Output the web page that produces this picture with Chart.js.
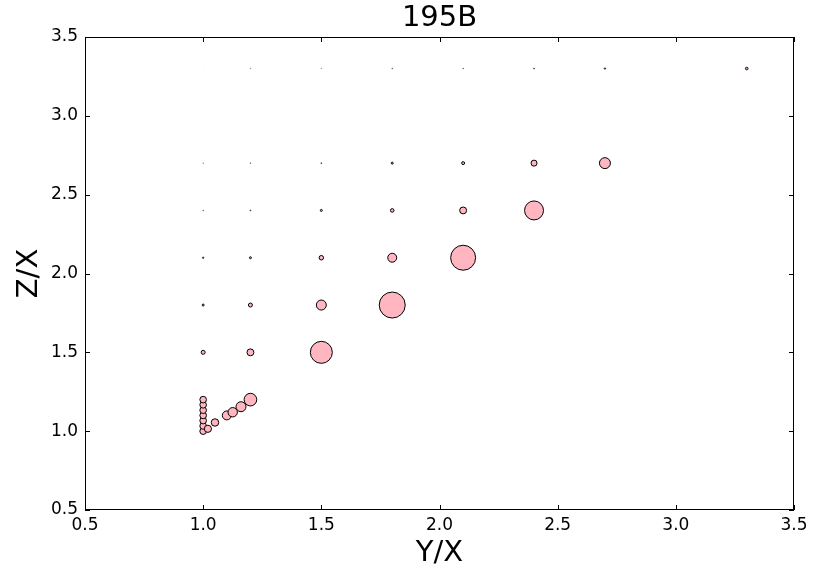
<!DOCTYPE html>
<html>
<head>
<meta charset="utf-8">
<title>195B</title>
<script src="https://cdn.jsdelivr.net/npm/chart.js@4.4.0/dist/chart.umd.min.js"></script>
<style>
  html, body { margin: 0; padding: 0; background: #fff; }
  #wrap { width: 813px; height: 571px; position: relative; }
</style>
</head>
<body>
<div id="wrap"><canvas id="chart"></canvas></div>
<script>
// grid of ratios plus the small cluster near (1, 1)
const ratioYX = [
  1.0, 1.2, 1.5,
  1.0, 1.2, 1.5, 1.8,
  1.0, 1.2, 1.5, 1.8, 2.1,
  1.0, 1.2, 1.5, 1.8, 2.1, 2.4,
  1.0, 1.2, 1.5, 1.8, 2.1, 2.4, 2.7,
  1.0, 1.2, 1.5, 1.8, 2.1, 2.4, 2.7, 3.3,
  1.0, 1.0, 1.0, 1.0, 1.0, 1.0, 1.0,
  1.02, 1.05, 1.1, 1.125, 1.16, 1.2,
];
const ratioZX = [
  1.5, 1.5, 1.5,
  1.8, 1.8, 1.8, 1.8,
  2.1, 2.1, 2.1, 2.1, 2.1,
  2.4, 2.4, 2.4, 2.4, 2.4, 2.4,
  2.7, 2.7, 2.7, 2.7, 2.7, 2.7, 2.7,
  3.3, 3.3, 3.3, 3.3, 3.3, 3.3, 3.3, 3.3,
  1.0, 1.033, 1.067, 1.1, 1.133, 1.167, 1.2,
  1.015, 1.055, 1.1, 1.12, 1.155, 1.2,
];
const weights = [
  4, 12, 121,
  1, 4, 25, 169,
  0.5, 1, 5, 20, 156,
  0.16, 0.25, 1, 3.2, 12, 90,
  0.09, 0.16, 0.25, 1, 2.2, 9, 30,
  0.01, 0.09, 0.09, 0.16, 0.16, 0.25, 0.5, 1.7,
  11, 11, 11, 11, 11, 11, 11,
  13, 14, 20, 22, 25, 40,
];

const xTicks = [0.5, 1.0, 1.5, 2.0, 2.5, 3.0, 3.5];
const yTicks = [0.5, 1.0, 1.5, 2.0, 2.5, 3.0, 3.5];

const points = ratioYX.map((x, i) => ({ x: x, y: ratioZX[i], r: Math.sqrt(weights[i]) }));

// frame with inward tick marks on all four sides
const axisFrame = {
  id: 'axisFrame',
  beforeDatasetsDraw(chart) {
    const { ctx, chartArea: a, scales } = chart;
    const len = 5;
    ctx.save();
    ctx.strokeStyle = '#000';
    ctx.lineWidth = 1;
    ctx.beginPath();
    scales.x.ticks.forEach((t) => {
      const px = Math.round(scales.x.getPixelForValue(t.value)) + 0.5;
      ctx.moveTo(px, a.bottom);
      ctx.lineTo(px, a.bottom - len);
      ctx.moveTo(px, a.top);
      ctx.lineTo(px, a.top + len);
    });
    scales.y.ticks.forEach((t) => {
      const py = Math.round(scales.y.getPixelForValue(t.value)) + 0.5;
      ctx.moveTo(a.left, py);
      ctx.lineTo(a.left + len, py);
      ctx.moveTo(a.right, py);
      ctx.lineTo(a.right - len, py);
    });
    ctx.stroke();
    ctx.strokeRect(Math.round(a.left) + 0.5, Math.round(a.top) + 0.5,
      Math.round(a.width) - 1, Math.round(a.height) - 1);
    ctx.restore();
  },
};

const font = 'DejaVu Sans';

new Chart(document.getElementById('chart'), {
  type: 'bubble',
  data: {
    datasets: [{
      data: points,
      backgroundColor: '#ffb6c1',
      borderColor: '#000',
      borderWidth: (ctx) => Math.min(1, (ctx.raw ? ctx.raw.r : 1) * 1.2),
      clip: false,
    }],
  },
  plugins: [axisFrame],
  options: {
    responsive: true,
    maintainAspectRatio: false,
    animation: false,
    events: [],
    layout: { padding: { left: 0, right: 19, top: 0, bottom: 0 } },
    plugins: {
      legend: { display: false },
      tooltip: { enabled: false },
      title: {
        display: true,
        fullSize: false,
        text: '195B',
        color: '#000',
        font: { family: font, size: 29, weight: 'normal' },
        padding: { top: 1, bottom: 1.2 },
      },
    },
    scales: {
      x: {
        type: 'linear',
        min: 0.5,
        max: 3.5,
        afterBuildTicks: (scale) => { scale.ticks = xTicks.map((v) => ({ value: v })); },
        afterFit: (scale) => { scale.height = 61; },
        grid: { display: false, drawTicks: false },
        border: { display: false },
        ticks: {
          padding: 5,
          color: '#000',
          maxRotation: 0,
          font: { family: font, size: 17 },
          callback: (v) => Number(v).toFixed(1),
        },
        title: {
          display: true,
          text: 'Y/X',
          color: '#000',
          font: { family: font, size: 29 },
          padding: { top: 0, bottom: 0 },
        },
      },
      y: {
        type: 'linear',
        min: 0.5,
        max: 3.5,
        afterBuildTicks: (scale) => { scale.ticks = yTicks.map((v) => ({ value: v })); },
        afterFit: (scale) => { scale.width = 85; },
        grid: { display: false, drawTicks: false },
        border: { display: false },
        ticks: {
          padding: 7,
          color: '#000',
          font: { family: font, size: 17 },
          callback: (v) => Number(v).toFixed(1),
        },
        title: {
          display: true,
          text: 'Z/X',
          color: '#000',
          font: { family: font, size: 29 },
          padding: { top: 12, bottom: 0 },
        },
      },
    },
  },
});
</script>
</body>
</html>
